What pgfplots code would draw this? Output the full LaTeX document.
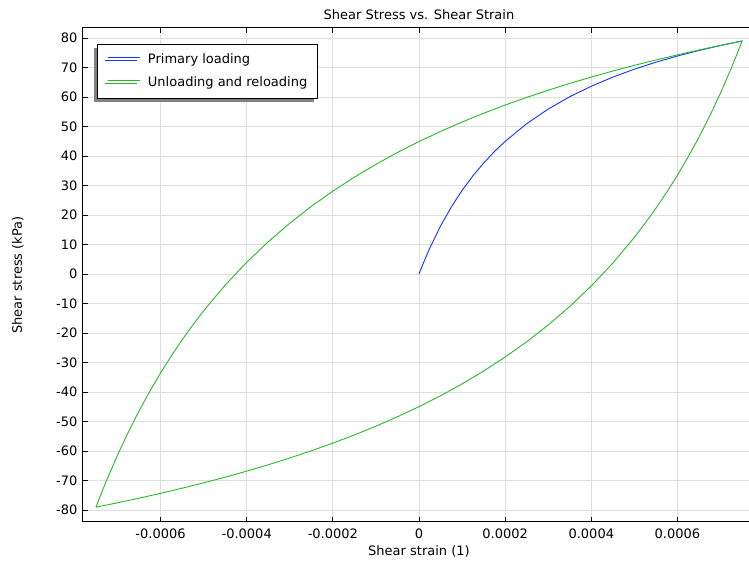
\documentclass[border=0pt]{standalone}
\usepackage{pgfplots}
\pgfplotsset{compat=1.18}
\usepackage{fontspec}
\setmainfont{DejaVu Sans}
\usetikzlibrary{shadows}
\definecolor{cblue}{RGB}{20,50,255}
\definecolor{cgreen}{RGB}{40,185,40}
\definecolor{gridgray}{RGB}{222,222,222}
\begin{document}
\fontsize{13bp}{15bp}\selectfont
\begin{tikzpicture}
\begin{axis}[name=ax, scale only axis, width=672bp, height=494bp,
  xmin=-0.00078, xmax=0.00078, ymin=-84, ymax=83.4,
  scaled x ticks=false, scaled y ticks=false,
  xtick={-0.0006,-0.0004,-0.0002,0,0.0002,0.0004,0.0006},
  xticklabels={-0.0006,-0.0004,-0.0002,0,0.0002,0.0004,0.0006},
  ytick={-80,-70,-60,-50,-40,-30,-20,-10,0,10,20,30,40,50,60,70,80},
  yticklabels={-80,-70,-60,-50,-40,-30,-20,-10,0,10,20,30,40,50,60,70,80},
  grid=major, major grid style={gridgray, line width=1bp},
  tick align=inside, major tick length=5bp,
  tick style={black, line width=1bp},
  axis line style={black, line width=1bp},
  ticklabel style={font=\fontsize{13bp}{15bp}\selectfont},
  xticklabel style={yshift=-2bp},
  yticklabel style={xshift=-1bp},
  every axis title shift=0pt,
  title={Shear Stress vs. Shear Strain},
  title style={at={(axis description cs:0.5,1)}, anchor=base, yshift=8bp, font=\fontsize{13bp}{15bp}\selectfont},
  xlabel={Shear strain (1)},
  xlabel style={at={(axis description cs:0.5,0)}, anchor=base, yshift=-34bp, font=\fontsize{13bp}{15bp}\selectfont},
  ylabel={Shear stress (kPa)},
  ylabel style={at={(axis description cs:-0.0908,0.5)}, rotate=0, anchor=base, font=\fontsize{13bp}{15bp}\selectfont},
  legend cell align=left,
  legend image code/.code={\draw[#1, line width=1bp] (0bp,2.5bp) -- (32bp,2.5bp);},
  legend style={at={(axis description cs:0.0208,0.968)}, anchor=north west,
    draw=black, line width=1bp, fill=white, inner xsep=10.5bp, inner ysep=9.5bp,
    row sep=11bp, column sep=7bp,
    nodes={inner sep=0bp, text height=9.5bp, text depth=2.5bp},
    font=\fontsize{13bp}{15bp}\selectfont,
    general shadow={fill=gray, shadow xshift=-3.5bp, shadow yshift=-3.5bp}},
]
\addplot[cblue, line width=0.9bp] coordinates {
(0,0) (0.05e-4,1.88) (0.1e-4,3.70) (0.25e-4,8.80) (0.5e-4,16.29) (0.75e-4,22.74)
(1.0e-4,28.34) (1.25e-4,33.27) (1.5e-4,37.62) (1.75e-4,41.50) (2.0e-4,44.98)
(2.5e-4,50.97) (3.0e-4,55.93) (3.5e-4,60.11) (4.0e-4,63.67) (4.5e-4,66.76)
(5.0e-4,69.44) (5.5e-4,71.81) (6.0e-4,73.91) (6.5e-4,75.78) (7.0e-4,77.47) (7.5e-4,78.99)
};
\addlegendentry{Primary loading}
\addplot[cgreen, line width=0.9bp] coordinates {
(-7.5e-4,-78.98) (-7.4e-4,-75.24) (-7.3e-4,-71.60) (-7.25e-4,-69.82) (-7.0e-4,-61.39)
(-6.75e-4,-53.62) (-6.5e-4,-46.41) (-6.25e-4,-39.74) (-6.0e-4,-33.51) (-5.75e-4,-27.73)
(-5.5e-4,-22.31) (-5.25e-4,-17.24) (-5.0e-4,-12.45) (-4.5e-4,-3.75) (-4.0e-4,4.00)
(-3.5e-4,10.96) (-3.0e-4,17.24) (-2.5e-4,22.94) (-2.0e-4,28.10) (-1.5e-4,32.86)
(-1.0e-4,37.20) (-0.5e-4,41.22) (0,44.92) (0.5e-4,48.34) (1.0e-4,51.54) (1.5e-4,54.52)
(2.0e-4,57.28) (2.5e-4,59.88) (3.0e-4,62.32) (3.5e-4,64.62) (4.0e-4,66.78) (4.5e-4,68.82)
(5.0e-4,70.74) (5.5e-4,72.56) (6.0e-4,74.30) (6.5e-4,75.94) (7.0e-4,77.50) (7.5e-4,78.98)
(7.4e-4,75.24) (7.3e-4,71.60) (7.25e-4,69.82) (7.0e-4,61.39)
(6.75e-4,53.62) (6.5e-4,46.41) (6.25e-4,39.74) (6.0e-4,33.51) (5.75e-4,27.73)
(5.5e-4,22.31) (5.25e-4,17.24) (5.0e-4,12.45) (4.5e-4,3.75) (4.0e-4,-4.00)
(3.5e-4,-10.96) (3.0e-4,-17.24) (2.5e-4,-22.94) (2.0e-4,-28.10) (1.5e-4,-32.86)
(1.0e-4,-37.20) (0.5e-4,-41.22) (0,-44.92) (-0.5e-4,-48.34) (-1.0e-4,-51.54) (-1.5e-4,-54.52)
(-2.0e-4,-57.28) (-2.5e-4,-59.88) (-3.0e-4,-62.32) (-3.5e-4,-64.62) (-4.0e-4,-66.78) (-4.5e-4,-68.82)
(-5.0e-4,-70.74) (-5.5e-4,-72.56) (-6.0e-4,-74.30) (-6.5e-4,-75.94) (-7.0e-4,-77.50) (-7.5e-4,-78.98)
};
\addlegendentry{Unloading and reloading}
\end{axis}
\pgfresetboundingbox
\path[use as bounding box] ([xshift=-83bp,yshift=-40bp]ax.south west) rectangle ([xshift=-6bp,yshift=28bp]ax.north east);
\end{tikzpicture}
\end{document}
